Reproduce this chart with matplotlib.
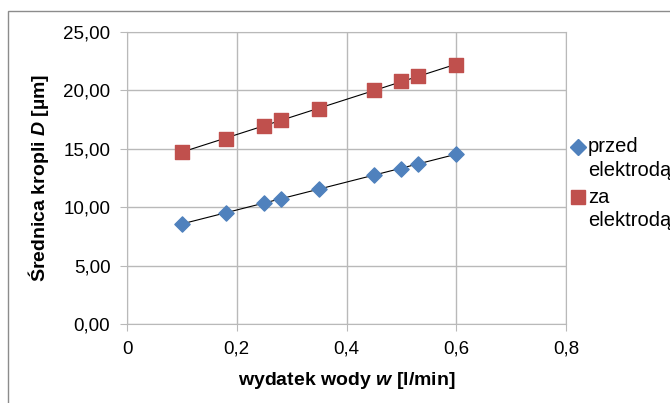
import numpy as np
import matplotlib.pyplot as plt
from matplotlib.patches import Rectangle
from matplotlib.lines import Line2D
from matplotlib.ticker import FuncFormatter, MultipleLocator

plt.rcParams['font.family'] = ['Liberation Sans', 'DejaVu Sans']
plt.rcParams['mathtext.fontset'] = 'custom'
plt.rcParams['mathtext.it'] = 'Liberation Sans:bold:italic'
plt.rcParams['mathtext.rm'] = 'Liberation Sans:bold'

# dane
w = [0.10, 0.18, 0.25, 0.28, 0.35, 0.45, 0.50, 0.53, 0.60]
przed = [8.6, 9.5, 10.35, 10.7, 11.55, 12.8, 13.3, 13.7, 14.55]
za = [14.75, 15.85, 16.95, 17.5, 18.45, 20.0, 20.8, 21.2, 22.2]
serie = ['przed\nelektrodą', 'za\nelektrodą']
kolory = ['#4f81bd', '#c0504d']
markery = ['D', 's']

fig = plt.figure(figsize=(6.7, 4.03), dpi=100)
ax = fig.add_axes([0.1896, 0.196, 0.6552, 0.7246])

grid_c = '#b9b9b9'
ax.set_xlim(0, 0.8)
ax.set_ylim(0, 25)
ax.xaxis.set_major_locator(MultipleLocator(0.2))
ax.yaxis.set_major_locator(MultipleLocator(5))
ax.grid(True, color=grid_c, linewidth=1)
ax.set_axisbelow(True)
for s in ax.spines.values():
    s.set_color(grid_c)
ax.tick_params(colors=grid_c, labelcolor='black', labelsize=13.5, length=5, pad=7)
ax.xaxis.set_major_formatter(FuncFormatter(lambda v, p: f"{v:g}".replace('.', ',')))
ax.yaxis.set_major_formatter(FuncFormatter(lambda v, p: f"{v:.2f}".replace('.', ',')))

# linie trendu
xs = np.array([min(w), max(w)])
for ys in (przed, za):
    a, b = np.polyfit(w, ys, 1)
    ax.plot(xs, a * xs + b, color='black', linewidth=0.8, zorder=2)

ax.scatter(w, przed, marker='D', s=60, color=kolory[0], zorder=3)
ax.scatter(w, za, marker='s', s=110, color=kolory[1], zorder=3)

ax.set_xlabel('wydatek wody $w$ [l/min]', fontsize=14, fontweight='bold', labelpad=9)
ax.set_ylabel('Średnica kropli $D$ [µm]', fontsize=14, fontweight='bold', labelpad=9)

# legenda (znacznik wyrównany do pierwszej linii opisu)
H = 403.0
for i, (lab, c, m) in enumerate(zip(serie, kolory, markery)):
    y0 = 147 + i * 50
    ms = 8 if m == 'D' else 10.5
    fig.add_artist(Line2D([578 / 670], [1 - y0 / H], marker=m, markersize=ms,
                          color=c, linestyle='none', transform=fig.transFigure))
    for j, line in enumerate(lab.split('\n')):
        fig.text(588 / 670, 1 - (y0 + j * 23) / H, line, fontsize=14.5,
                 va='center', ha='left')

fig.patches.append(Rectangle((8 / 670, -0.05), 1.2, 1 - 11 / 403 + 0.05,
                             transform=fig.transFigure, fill=False,
                             edgecolor='#8c8c8c', linewidth=1))

fig.savefig('out.png', dpi=100)
